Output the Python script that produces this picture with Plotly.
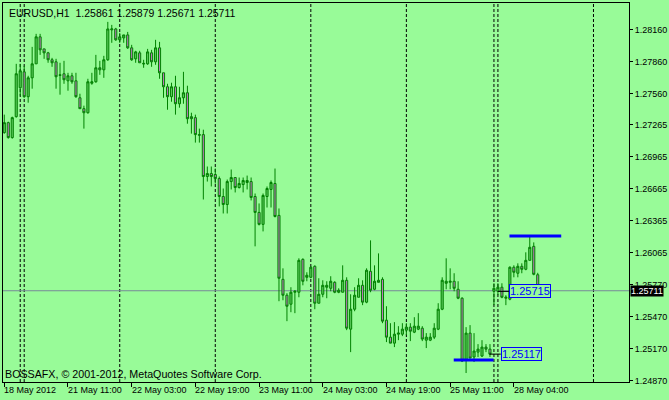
import plotly.graph_objects as go

# ---- data (EURUSD H1) ----
opens = [1.27192, 1.27286, 1.27146, 1.27342, 1.27613, 1.27762, 1.27529, 1.27706, 1.27837, 1.28090,
         1.27977, 1.27940, 1.27875, 1.27856, 1.27734, 1.27744, 1.27678, 1.27725, 1.27678, 1.27519,
         1.27417, 1.27379, 1.27655, 1.27669, 1.27800, 1.27781, 1.27875, 1.28155, 1.28164, 1.28062,
         1.28080, 1.28108, 1.27987, 1.27884, 1.27940, 1.27842, 1.27837, 1.27940, 1.27856, 1.27987,
         1.27753, 1.27622, 1.27529, 1.27622, 1.27463, 1.27519, 1.27566, 1.27342, 1.27333, 1.27174,
         1.27174, 1.26781, 1.26809, 1.26800, 1.26762, 1.26594, 1.26519, 1.26734, 1.26772, 1.26678,
         1.26706, 1.26725, 1.26734, 1.26594, 1.26445, 1.26333, 1.26594, 1.26660, 1.26716, 1.26417,
         1.25818, 1.25669, 1.25585, 1.25697, 1.25697, 1.26005, 1.25837, 1.25837, 1.25940, 1.25594,
         1.25678, 1.25744, 1.25734, 1.25790, 1.25697, 1.25697, 1.25809, 1.25351, 1.25538, 1.25650,
         1.25762, 1.25604, 1.25893, 1.25725, 1.25790, 1.25818, 1.25435, 1.25276, 1.25220, 1.25304,
         1.25304, 1.25342, 1.25370, 1.25323, 1.25351, 1.25360, 1.25248, 1.25248, 1.25276, 1.25351,
         1.25538, 1.25781, 1.25790, 1.25800, 1.25725, 1.25641, 1.25061, 1.25314, 1.25090, 1.25136,
         1.25099, 1.25183, 1.25164, 1.25706, 1.25706, 1.25744, 1.25641, 1.25632, 1.25931, 1.25875,
         1.25940, 1.25912, 1.25996, 1.26127, 1.25861]
highs = [1.27361, 1.27295, 1.27342, 1.27837, 1.27837, 1.27819, 1.27725, 1.27996, 1.28118, 1.28118,
         1.27977, 1.27949, 1.27893, 1.27884, 1.27847, 1.27865, 1.27753, 1.27753, 1.27753, 1.27557,
         1.27445, 1.27697, 1.27753, 1.27921, 1.27865, 1.27912, 1.28230, 1.28202, 1.28174, 1.28127,
         1.28108, 1.28136, 1.28015, 1.27959, 1.27959, 1.27875, 1.27977, 1.27968, 1.28062, 1.28043,
         1.27753, 1.27650, 1.27660, 1.27725, 1.27622, 1.27762, 1.27632, 1.27379, 1.27361, 1.27230,
         1.27220, 1.26875, 1.26875, 1.26856, 1.26781, 1.26669, 1.26753, 1.26847, 1.26772, 1.26772,
         1.26772, 1.26790, 1.26772, 1.26622, 1.26529, 1.26622, 1.26688, 1.26744, 1.26856, 1.26482,
         1.25921, 1.25688, 1.25744, 1.25716, 1.26015, 1.26015, 1.25884, 1.25940, 1.25949, 1.25828,
         1.25809, 1.25800, 1.25847, 1.25800, 1.25734, 1.25949, 1.25837, 1.25678, 1.25744, 1.25828,
         1.25809, 1.25921, 1.26183, 1.25949, 1.26061, 1.25837, 1.25566, 1.25407, 1.25417, 1.25379,
         1.25407, 1.25407, 1.25407, 1.25463, 1.25501, 1.25379, 1.25314, 1.25314, 1.25407, 1.25594,
         1.25837, 1.26015, 1.25921, 1.25875, 1.25800, 1.25650, 1.25370, 1.25389, 1.25314, 1.25211,
         1.25248, 1.25211, 1.25211, 1.25781, 1.25781, 1.25781, 1.25669, 1.25940, 1.25949, 1.25968,
         1.25968, 1.26071, 1.26230, 1.26164, 1.25879]
lows = [1.27183, 1.27136, 1.27136, 1.27333, 1.27538, 1.27519, 1.27473, 1.27604, 1.27837, 1.27921,
        1.27884, 1.27847, 1.27809, 1.27604, 1.27548, 1.27650, 1.27585, 1.27650, 1.27519, 1.27417,
        1.27230, 1.27370, 1.27641, 1.27660, 1.27734, 1.27706, 1.27865, 1.28034, 1.28052, 1.28034,
        1.28034, 1.27977, 1.27865, 1.27847, 1.27847, 1.27800, 1.27828, 1.27809, 1.27828, 1.27697,
        1.27519, 1.27407, 1.27482, 1.27361, 1.27426, 1.27463, 1.27276, 1.27183, 1.27099, 1.27099,
        1.26566, 1.26734, 1.26688, 1.26716, 1.26501, 1.26435, 1.26435, 1.26660, 1.26632, 1.26669,
        1.26632, 1.26660, 1.26557, 1.26127, 1.26323, 1.26267, 1.26491, 1.26491, 1.26398, 1.25613,
        1.25622, 1.25426, 1.25510, 1.25501, 1.25650, 1.25762, 1.25800, 1.25828, 1.25538, 1.25594,
        1.25650, 1.25641, 1.25706, 1.25688, 1.25688, 1.25697, 1.25342, 1.25136, 1.25519, 1.25650,
        1.25576, 1.25594, 1.25697, 1.25716, 1.25790, 1.25407, 1.25230, 1.25220, 1.25183, 1.25248,
        1.25286, 1.25295, 1.25239, 1.25314, 1.25342, 1.25239, 1.25174, 1.25239, 1.25258, 1.25342,
        1.25529, 1.25725, 1.25725, 1.25706, 1.25632, 1.25043, 1.24940, 1.25080, 1.25043, 1.25090,
        1.25090, 1.25136, 1.25090, 1.25576, 1.25669, 1.25641, 1.25576, 1.25622, 1.25837, 1.25837,
        1.25875, 1.25903, 1.25996, 1.25856, 1.25671]
closes = [1.27286, 1.27146, 1.27333, 1.27744, 1.27772, 1.27529, 1.27706, 1.27837, 1.28090, 1.27968,
          1.27940, 1.27875, 1.27847, 1.27716, 1.27730, 1.27688, 1.27725, 1.27669, 1.27529, 1.27417,
          1.27379, 1.27669, 1.27669, 1.27800, 1.27781, 1.27875, 1.28164, 1.28164, 1.28062, 1.28090,
          1.28108, 1.27987, 1.27875, 1.27949, 1.27847, 1.27837, 1.27949, 1.27856, 1.27987, 1.27753,
          1.27622, 1.27529, 1.27622, 1.27463, 1.27519, 1.27566, 1.27323, 1.27323, 1.27174, 1.27169,
          1.26781, 1.26809, 1.26781, 1.26762, 1.26594, 1.26519, 1.26734, 1.26772, 1.26678, 1.26716,
          1.26744, 1.26744, 1.26585, 1.26445, 1.26333, 1.26604, 1.26669, 1.26725, 1.26407, 1.25828,
          1.25669, 1.25566, 1.25697, 1.25706, 1.25996, 1.25800, 1.25856, 1.25931, 1.25594, 1.25678,
          1.25762, 1.25762, 1.25800, 1.25697, 1.25716, 1.25809, 1.25360, 1.25538, 1.25669, 1.25762,
          1.25604, 1.25903, 1.25716, 1.25800, 1.25809, 1.25426, 1.25276, 1.25220, 1.25304, 1.25314,
          1.25351, 1.25370, 1.25332, 1.25379, 1.25379, 1.25258, 1.25276, 1.25276, 1.25360, 1.25538,
          1.25809, 1.25800, 1.25800, 1.25734, 1.25641, 1.25052, 1.25314, 1.25080, 1.25146, 1.25164,
          1.25183, 1.25164, 1.25117, 1.25734, 1.25744, 1.25650, 1.25650, 1.25931, 1.25884, 1.25940,
          1.25912, 1.25996, 1.26118, 1.25865, 1.25711]

bar_index = list(range(len(opens)))

time_tick_bars = [0, 16, 32, 48, 64, 80, 96, 112, 128]
time_tick_labels = ["18 May 2012", "21 May 11:00", "22 May 03:00", "22 May 19:00",
                    "23 May 11:00", "24 May 03:00", "24 May 19:00", "25 May 11:00",
                    "28 May 04:00"]
day_separator_bars = [4, 5, 29, 53, 77, 101, 123, 124, 148]

price_ticks = [1.28160, 1.27860, 1.27560, 1.27265, 1.26965, 1.26665,
               1.26365, 1.26065, 1.25770, 1.25470, 1.25170, 1.24870]
price_tick_labels = ["%.5f" % v for v in price_ticks]

bid_price = 1.25711
# blue level lines: start bar, end bar, price
level_start = [112.9, 126.9]
level_end = [122.9, 139.9]
level_price = [1.25061, 1.26225]
# price label boxes: connector start bar, box bar, price, text
label_from = [121.9, 124.0]
label_bar = [124.7, 126.9]
label_price = [1.25117, 1.25705]
label_text = ["1.25117", "1.25715"]

BG = "#98fb98"
FONT = "Liberation Sans"

fig = go.Figure()
fig.add_trace(go.Candlestick(
    x=bar_index, open=opens, high=highs, low=lows, close=closes,
    increasing=dict(line=dict(color="#008000", width=1), fillcolor="#5cc85c"),
    decreasing=dict(line=dict(color="#008000", width=1), fillcolor="#b878b8"),
    whiskerwidth=0, hoverinfo="skip", showlegend=False,
))

shapes = []
for b in day_separator_bars:
    shapes.append(dict(type="line", xref="x", yref="paper", x0=b, x1=b, y0=0, y1=1,
                       line=dict(color="black", width=1, dash="3px,2px"), layer="below"))
shapes.append(dict(type="line", xref="paper", yref="y", x0=0, x1=1, y0=bid_price, y1=bid_price,
                   line=dict(color="#778899", width=1), layer="below"))
for s, e, p in zip(level_start, level_end, level_price):
    shapes.append(dict(type="line", xref="x", yref="y", x0=s, x1=e, y0=p, y1=p,
                       line=dict(color="#0000ff", width=3), layer="above"))
for f, b, p in zip(label_from, label_bar, label_price):
    shapes.append(dict(type="line", xref="x", yref="y", x0=f, x1=b, y0=p, y1=p,
                       line=dict(color="black", width=1), layer="above"))

annotations = []
for b, t in zip(time_tick_bars, time_tick_labels):
    annotations.append(dict(x=b, y=0, xref="x", yref="paper", text=t, showarrow=False,
                            xanchor="left", yanchor="top", xshift=-2, yshift=-1,
                            font=dict(family=FONT, size=9, color="black")))
for b, p, t in zip(label_bar, label_price, label_text):
    annotations.append(dict(x=b, y=p, xref="x", yref="y", text=t, showarrow=False,
                            xanchor="left", yanchor="middle", bgcolor=BG,
                            bordercolor="#0000ff", borderwidth=1, borderpad=0,
                            font=dict(family=FONT, size=11, color="#0000ff")))
annotations.append(dict(x=1, y=bid_price, xref="paper", yref="y", text="1.25711",
                        showarrow=False, xanchor="left", yanchor="middle", xshift=1,
                        bgcolor="black", borderpad=0,
                        font=dict(family=FONT, size=9, color="white")))
annotations.append(dict(x=0, y=1, xref="paper", yref="paper",
                        text="EURUSD,H1&nbsp;&nbsp;1.25861 1.25879 1.25671 1.25711",
                        showarrow=False, xanchor="left", yanchor="top", xshift=4, yshift=-2,
                        font=dict(family=FONT, size=10.5, color="black")))
annotations.append(dict(x=0, y=0, xref="paper", yref="paper",
                        text="BOSSAFX, © 2001-2012, MetaQuotes Software Corp.",
                        showarrow=False, xanchor="left", yanchor="bottom", xshift=0, yshift=0,
                        font=dict(family=FONT, size=10.7, color="black")))

fig.update_layout(
    width=669, height=400, autosize=False,
    margin=dict(l=2, r=38, t=2, b=18, pad=0),
    paper_bgcolor=BG, plot_bgcolor=BG,
    font=dict(family=FONT, size=9, color="black"),
    shapes=shapes, annotations=annotations,
    boxgap=0.25,
    xaxis=dict(range=[-0.325, 156.925], showgrid=False, zeroline=False,
               showline=True, linecolor="black", linewidth=1, mirror=True,
               tickmode="array", tickvals=time_tick_bars, ticktext=[""] * len(time_tick_bars),
               ticks="outside", ticklen=4, tickcolor="black",
               rangeslider=dict(visible=False), fixedrange=True),
    yaxis=dict(range=[1.24856, 1.28407], side="right", showgrid=False, zeroline=False,
               showline=True, linecolor="black", linewidth=1, mirror=True,
               tickmode="array", tickvals=price_ticks, ticktext=price_tick_labels,
               ticks="outside", ticklen=3, tickcolor="black",
               tickfont=dict(family=FONT, size=9, color="black"), fixedrange=True),
)

fig.write_html("out.html", config={"displayModeBar": False},
               post_script="document.body.style.margin='0px';")
